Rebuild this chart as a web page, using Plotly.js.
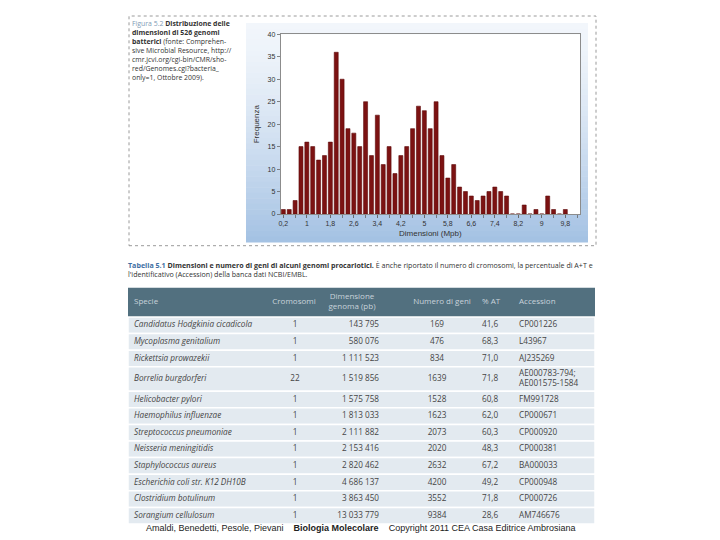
<!DOCTYPE html>
<html>
<head>
<meta charset="utf-8">
<script src="https://cdn.plot.ly/plotly-3.0.1.min.js"></script>
<style>html,body{margin:0;padding:0;background:#fff;}#chart{width:720px;height:540px;}</style>
</head>
<body>
<div id="chart"></div>
<script>
// ---- Histogram data (Figura 5.2) ----
const binCenters = [0.2,0.4,0.6,0.8,1.0,1.2,1.4,1.6,1.8,2.0,2.2,2.4,2.6,2.8,3.0,3.2,3.4,3.6,3.8,4.0,4.2,4.4,4.6,4.8,5.0,5.2,5.4,5.6,5.8,6.0,6.2,6.4,6.6,6.8,7.0,7.2,7.4,7.6,7.8,8.0,8.2,8.4,8.6,8.8,9.0,9.2,9.4,9.6,9.8];
const frequency  = [1,1,3,15,16,15,12,13,16,36,30,19,18,15,25,13,22,11,15,9,13,15,19,24,23,19,25,13,8,11,6,5,4,3,4,5,6,5,4,0,0,2,0,1,0,4,1,0,1];
const xTickVals   = [0.2,1,1.8,2.6,3.4,4.2,5,5.8,6.6,7.4,8.2,9,9.8];
const xTickLabels = ['0,2','1','1,8','2,6','3,4','4,2','5','5,8','6,6','7,4','8,2','9','9,8'];

// ---- Table data (Tabella 5.1) ----
const tableHeader = ['Specie','Cromosomi','Dimensione<br>genoma (pb)','Numero di geni','% AT','Accession'];
const species = ['Candidatus Hodgkinia cicadicola','Mycoplasma genitalium','Rickettsia prowazekii','Borrelia burgdorferi','Helicobacter pylori','Haemophilus influenzae','Streptococcus pneumoniae','Neisseria meningitidis','Staphylococcus aureus','Escherichia coli str. K12 DH10B','Clostridium botulinum','Sorangium cellulosum'];
const chromosomes = [1,1,1,22,1,1,1,1,1,1,1,1];
const genomeSize = ['143 795','580 076','1 111 523','1 519 856','1 575 758','1 813 033','2 111 882','2 153 416','2 820 462','4 686 137','3 863 450','13 033 779'];
const geneCount = [169,476,834,1639,1528,1623,2073,2020,2632,4200,3552,9384];
const atPercent = ['41,6','68,3','71,0','71,8','60,8','62,0','60,3','48,3','67,2','49,2','71,8','28,6'];
const accession = ['CP001226','L43967','AJ235269','AE000783-794; AE001575-1584','FM991728','CP000671','CP000920','CP000381','BA000033','CP000948','CP000726','AM746676'];

// ---- Caption texts ----
const figureCaptionLines = [
  "<span style='color:#7f9bb6'>Figura 5.2</span> <b>Distribuzione delle</b>",
  "<b>dimensioni di 526 genomi</b>",
  "<b>batterici</b> (fonte: Comprehen-",
  "sive Microbial Resource, http://",
  "cmr.jcvi.org/cgi-bin/CMR/sho-",
  "red/Genomes.cgi?bacteria_",
  "only=1, Ottobre 2009)."
];
const tableCaption = "<span style='color:#3f6fa3'><b>Tabella 5.1</b></span> <b>Dimensioni e numero di geni di alcuni genomi procariotici.</b> È anche riportato il numero di cromosomi, la percentuale di A+T e<br>l'identificativo (Accession) della banca dati NCBI/EMBL.";
const creditLine = "Amaldi, Benedetti, Pesole, Pievani    <b>Biologia Molecolare</b>    Copyright 2011 CEA Casa Editrice Ambrosiana";

const W = 720, H = 540;
const px = v => v / W;
const py = v => 1 - v / H;

// ---------- histogram ----------
const barTrace = {
  type: 'bar',
  x: binCenters,
  y: frequency,
  marker: {color: '#7c1212', line: {color: '#5e0a0a', width: 0.6}},
  xaxis: 'x', yaxis: 'y',
  hoverinfo: 'x+y'
};

// ---------- table layout (styles / positions) ----------
const headerH = 29.5, rowH1 = 16.6, rowH2 = 24.4;
const rowHeights = accession.map(a => a.indexOf(';') >= 0 ? rowH2 : rowH1);
const rowTops = [];
let acc = headerH;
rowHeights.forEach(h => { rowTops.push(acc); acc += h; });
const tableH = acc;
const rowCenters = rowTops.map((t, i) => t + rowHeights[i] / 2);
const tableW = 467;

const cellAnchor = [6, 167, 251, 309, 354, 391];
const cellPos = ['middle right','middle center','middle left','middle center','middle right','middle right'];
const headAnchor = [6, 166, 224, 314, 354, 391];
const headPos = ['middle right','middle center','middle center','middle center','middle right','middle right'];

const cellColumns = [
  species.map(s => '<i>' + s + '</i>'),
  chromosomes.map(String),
  genomeSize,
  geneCount.map(String),
  atPercent,
  accession.map(a => a.replace('; ', ';<br>'))
];

const cellFont = {family: 'Open Sans', size: 8.2, color: '#454545'};
const tableTraces = cellColumns.map((col, i) => ({
  type: 'scatter', mode: 'text',
  x: col.map(() => cellAnchor[i]),
  y: rowCenters,
  text: col,
  textposition: cellPos[i],
  textfont: cellFont,
  xaxis: 'x2', yaxis: 'y2',
  hoverinfo: 'skip', cliponaxis: false
}));
tableTraces.push({
  type: 'scatter', mode: 'text',
  x: headAnchor,
  y: tableHeader.map(() => headerH / 2),
  text: tableHeader,
  textposition: headPos,
  textfont: {family: 'Open Sans', size: 8, color: '#c8d3db'},
  xaxis: 'x2', yaxis: 'y2',
  hoverinfo: 'skip', cliponaxis: false
});

// ---------- shapes ----------
const shapes = [];
const gTop = 23, gBot = 242, nStrips = 40;
const c0 = [242, 246, 251], c1 = [163, 193, 227];
for (let i = 0; i < nStrips; i++) {
  const t = Math.pow((i + 0.5) / nStrips, 1.4);
  const c = c0.map((v, k) => Math.round(v + (c1[k] - v) * t));
  shapes.push({
    type: 'rect', xref: 'paper', yref: 'paper', layer: 'below',
    x0: px(246), x1: px(588),
    y0: py(gTop + (gBot - gTop) * i / nStrips),
    y1: py(gTop + (gBot - gTop) * (i + 1) / nStrips + 0.5),
    fillcolor: 'rgb(' + c.join(',') + ')', line: {width: 0}
  });
}
shapes.push({type: 'rect', xref: 'paper', yref: 'paper', layer: 'below',
  x0: px(280.7), x1: px(580), y0: py(214), y1: py(34.3),
  fillcolor: '#ffffff', line: {width: 0}});
shapes.push({type: 'rect', xref: 'paper', yref: 'paper', layer: 'above',
  x0: px(129), x1: px(596), y0: py(245.7), y1: py(16),
  fillcolor: 'rgba(0,0,0,0)', line: {color: '#9a9a9a', width: 1, dash: 'dot'}});
shapes.push({type: 'rect', xref: 'x2', yref: 'y2', layer: 'below',
  x0: 0, x1: tableW, y0: 0, y1: headerH,
  fillcolor: '#52707f', line: {width: 0}});
rowTops.forEach((t, i) => {
  shapes.push({type: 'rect', xref: 'x2', yref: 'y2', layer: 'below',
    x0: 0, x1: tableW, y0: t, y1: t + rowHeights[i],
    fillcolor: '#e3eaf0', line: {color: '#ffffff', width: 1.5}});
});

// ---------- annotations ----------
const annotations = figureCaptionLines.map((line, i) => ({
  xref: 'paper', yref: 'paper', x: px(130), y: py(23.5 + 9 * i),
  xanchor: 'left', yanchor: 'middle', align: 'left', showarrow: false,
  font: {family: 'Open Sans', size: 6.9, color: '#333333'},
  text: line
}));
annotations.push({
  xref: 'paper', yref: 'paper', x: px(126), y: py(257.5), xanchor: 'left', yanchor: 'top',
  align: 'left', showarrow: false,
  font: {family: 'Open Sans', size: 7.1, color: '#333333'},
  text: tableCaption
});
annotations.push({
  xref: 'paper', yref: 'paper', x: px(361), y: py(528), xanchor: 'center', yanchor: 'middle',
  showarrow: false,
  font: {family: 'Liberation Sans', size: 9, color: '#222222'},
  text: creditLine
});

const layout = {
  width: W, height: H,
  margin: {l: 0, r: 0, t: 0, b: 0},
  paper_bgcolor: '#ffffff',
  plot_bgcolor: 'rgba(0,0,0,0)',
  showlegend: false,
  bargap: 0.32,
  font: {family: 'Liberation Sans', color: '#333333'},
  xaxis: {
    domain: [px(280.7), px(580)],
    range: [0.11, 10.3],
    tickvals: xTickVals, ticktext: xTickLabels,
    ticks: 'outside', ticklen: 3, tickcolor: '#666', tickwidth: 0.8,
    minor: {dtick: 0.4, tick0: 0.2, ticks: 'outside', ticklen: 3, tickcolor: '#666', tickwidth: 0.8, showgrid: false},
    showline: true, linecolor: '#8c8c8c', linewidth: 1, mirror: true,
    showgrid: false, zeroline: false,
    tickfont: {family: 'Liberation Sans', size: 7, color: '#333'},
    title: {text: 'Dimensioni (Mpb)', font: {family: 'Liberation Sans', size: 8, color: '#333'}, standoff: 3}
  },
  yaxis: {
    domain: [py(214), py(34.3)],
    range: [0, 40], dtick: 5,
    ticks: 'outside', ticklen: 3, tickcolor: '#666', tickwidth: 0.8,
    showline: true, linecolor: '#8c8c8c', linewidth: 1, mirror: true,
    showgrid: false, zeroline: false,
    tickfont: {family: 'Liberation Sans', size: 7, color: '#333'},
    title: {text: 'Frequenza', font: {family: 'Liberation Sans', size: 8, color: '#333'}, standoff: 6}
  },
  xaxis2: {
    domain: [px(128), px(595)], range: [0, tableW], anchor: 'y2',
    visible: false, fixedrange: true
  },
  yaxis2: {
    domain: [py(287.5 + tableH), py(287.5)], range: [tableH, 0], anchor: 'x2',
    visible: false, fixedrange: true
  },
  shapes: shapes,
  annotations: annotations
};

Plotly.newPlot('chart', [barTrace].concat(tableTraces), layout, {displayModeBar: false, staticPlot: true});
</script>
</body>
</html>
